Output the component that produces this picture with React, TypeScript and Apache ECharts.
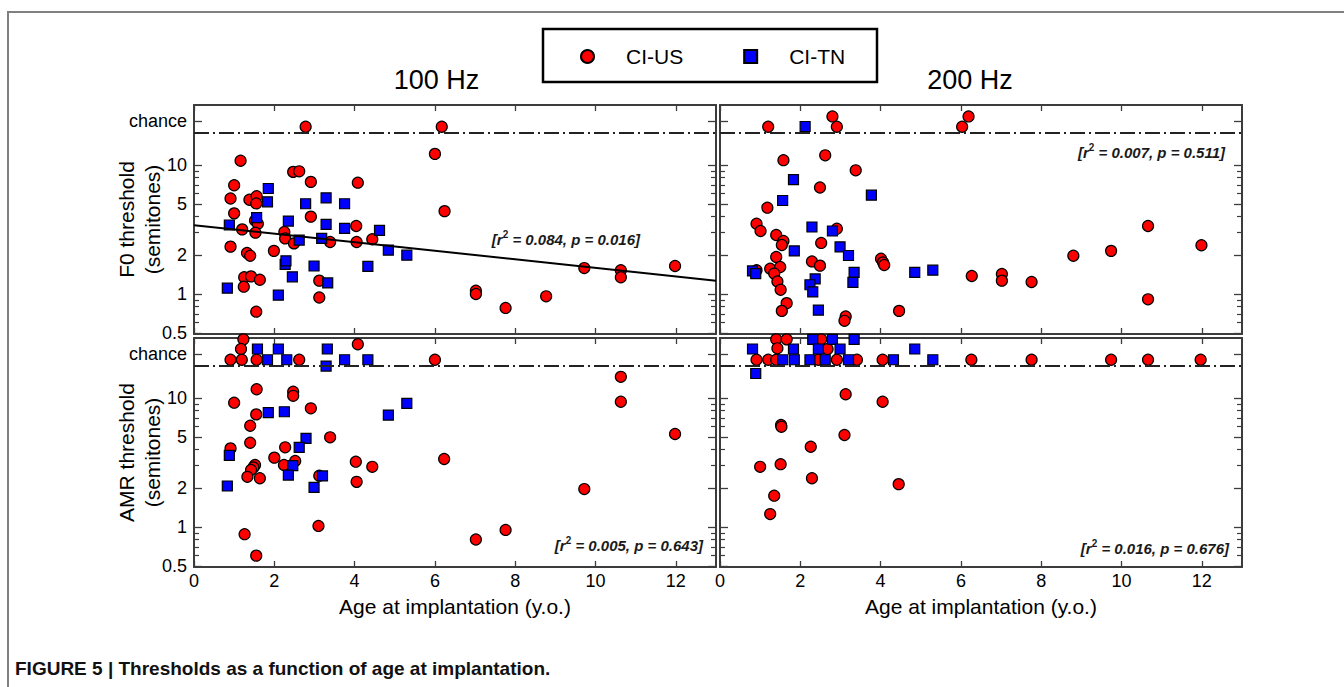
import React, { useEffect, useRef } from "react";
import * as echarts from "echarts";

const FONT = "'Liberation Sans', Arial, Helvetica, sans-serif";

// ---------------- data (age at implantation [y.o.], threshold [semitones]) ----------------
// 100 Hz, F0 threshold
const usF0_100: number[][] = [
  [2.78, 19.8], [6.17, 19.8], [1.16, 10.8], [6.0, 12.2], [2.47, 8.85], [2.62, 8.94],
  [1.0, 6.97], [2.91, 7.4], [4.08, 7.3], [0.91, 5.5], [1.38, 5.38], [1.56, 5.73],
  [1.55, 5.04], [1.0, 4.22], [2.91, 3.98], [1.52, 3.72], [1.59, 3.51], [1.2, 3.17],
  [1.53, 2.99], [2.25, 3.03], [2.27, 2.7], [2.49, 2.47], [4.04, 3.37], [4.05, 2.53],
  [3.39, 2.53], [4.44, 2.66], [0.91, 2.33], [1.32, 2.08], [1.4, 1.98], [1.99, 2.16],
  [1.25, 1.35], [1.42, 1.37], [1.64, 1.29], [1.24, 1.14], [3.12, 1.27], [3.12, 0.94],
  [1.55, 0.73], [6.24, 4.39], [9.72, 1.59], [10.63, 1.53], [10.63, 1.35], [11.98, 1.65],
  [7.02, 1.06], [7.02, 1.0], [7.76, 0.78], [8.77, 0.96],
];
const tnF0_100: number[][] = [
  [0.88, 3.43], [0.83, 1.11], [1.85, 6.58], [1.83, 5.19], [1.56, 3.91], [2.1, 0.98],
  [2.27, 1.7], [2.29, 1.81], [2.45, 1.36], [2.35, 3.68], [2.62, 2.62], [2.78, 5.01],
  [2.99, 1.65], [3.18, 2.7], [3.29, 3.47], [3.29, 5.57], [3.33, 1.22], [3.75, 5.01],
  [3.75, 3.23], [4.33, 1.64], [4.62, 3.12], [4.84, 2.19], [5.3, 2.0],
];
// 200 Hz, F0 threshold
const usF0_200: number[][] = [
  [1.2, 19.8], [2.8, 23.8], [2.91, 19.8], [6.03, 19.8], [6.19, 23.8], [1.58, 10.9],
  [2.62, 11.9], [3.38, 9.1], [2.49, 6.7], [1.18, 4.67], [0.91, 3.51], [1.01, 3.08],
  [1.4, 2.87], [1.58, 2.58], [1.54, 2.4], [2.91, 3.21], [2.52, 2.49], [1.4, 1.94],
  [2.29, 1.79], [2.49, 1.66], [0.91, 1.53], [1.25, 1.57], [1.5, 1.62], [1.35, 1.44],
  [1.43, 1.25], [1.51, 1.08], [1.66, 0.85], [1.54, 0.74], [3.13, 0.67], [3.1, 0.62],
  [4.01, 1.88], [4.06, 1.76], [4.09, 1.68], [4.46, 0.74], [6.27, 1.38], [7.02, 1.43],
  [7.02, 1.27], [7.76, 1.24], [8.8, 1.98], [9.74, 2.16], [10.66, 3.37], [10.66, 0.91],
  [11.99, 2.39],
];
const tnF0_200: number[][] = [
  [2.12, 19.9], [1.83, 7.72], [1.56, 5.31], [3.77, 5.84], [2.29, 3.31], [2.8, 3.08],
  [1.85, 2.16], [2.99, 2.32], [3.2, 1.99], [0.81, 1.51], [0.89, 1.44], [2.37, 1.31],
  [2.24, 1.18], [2.31, 1.04], [3.34, 1.47], [3.31, 1.23], [2.45, 0.75], [4.85, 1.47],
  [5.3, 1.53],
];
// 100 Hz, AMR threshold
const usAMR_100: number[][] = [
  [1.23, 28.5], [1.17, 24.0], [0.91, 19.8], [1.19, 19.8], [1.56, 19.8], [2.62, 19.8],
  [4.08, 26.1], [6.0, 19.8], [1.56, 11.7], [2.47, 11.2], [2.47, 10.4], [1.0, 9.2],
  [2.91, 8.32], [1.55, 7.47], [1.4, 6.1], [3.39, 4.96], [1.4, 4.5], [0.91, 4.07],
  [2.27, 4.15], [2.0, 3.45], [2.52, 3.25], [2.24, 3.03], [1.52, 3.03], [1.48, 2.9],
  [1.42, 2.77], [1.33, 2.45], [1.64, 2.39], [3.12, 2.5], [4.03, 3.21], [4.44, 2.93],
  [4.05, 2.24], [6.23, 3.37], [3.1, 1.02], [1.26, 0.88], [1.55, 0.6], [10.63, 14.6],
  [10.63, 9.36], [11.98, 5.26], [9.72, 1.97], [7.02, 0.8], [7.76, 0.95],
];
const tnAMR_100: number[][] = [
  [1.58, 24.0], [2.1, 24.0], [3.32, 24.0], [1.83, 19.8], [2.31, 19.8], [3.75, 19.8],
  [4.33, 19.8], [3.29, 17.7], [1.85, 7.7], [2.25, 7.83], [2.79, 4.87], [2.62, 4.15],
  [0.88, 3.59], [2.46, 2.99], [2.35, 2.53], [3.2, 2.49], [0.83, 2.08], [2.99, 2.03],
  [4.84, 7.38], [5.3, 9.1],
];
// 200 Hz, AMR threshold
const usAMR_200: number[][] = [
  [1.4, 28.5], [1.66, 28.5], [2.52, 28.5], [1.43, 24.3], [2.68, 24.0], [0.91, 19.8],
  [1.2, 19.8], [1.4, 19.8], [2.45, 19.8], [2.91, 19.8], [3.41, 19.8], [4.05, 19.8],
  [6.26, 19.8], [7.76, 19.8], [9.74, 19.8], [10.66, 19.8], [11.97, 19.8], [3.13, 10.7],
  [4.05, 9.36], [1.52, 6.18], [1.53, 5.99], [3.1, 5.17], [2.26, 4.19], [1.0, 2.93],
  [1.51, 3.07], [2.29, 2.39], [4.45, 2.15], [1.35, 1.75], [1.25, 1.26],
];
const tnAMR_200: number[][] = [
  [2.31, 28.5], [2.8, 28.5], [3.34, 28.5], [0.81, 24.0], [1.83, 24.0], [2.45, 24.0],
  [2.99, 24.0], [4.85, 24.0], [1.56, 19.8], [1.85, 19.8], [2.24, 19.8], [2.62, 19.8],
  [3.2, 19.8], [4.32, 19.8], [5.3, 19.8], [0.89, 15.5],
];

// regression fit, 100 Hz F0 panel (end points)
const fitF0_100: number[][] = [[0, 3.42], [13, 1.27]];

// axes
const xTicks = [0, 2, 4, 6, 8, 10, 12];
const xMin = 0;
const xMax = 13;
const yMin = 0.49;
const yMax = 29.2;
const yTickValues = [0.5, 1, 2, 5, 10, 22];
const yTickLabels = ["0.5", "1", "2", "5", "10", "chance"];
const yMinorTicks = [0.6, 0.7, 0.8, 0.9, 3, 4, 6, 7, 8, 9];
const chanceLevel = 17.8;

const columnTitles = ["100 Hz", "200 Hz"];
const rowNames = ["F0 threshold\n(semitones)", "AMR threshold\n(semitones)"];
const xName = "Age at implantation (y.o.)";
const legendNames = ["CI-US", "CI-TN"];
const stats = [
  ["0.084", "0.016"],
  ["0.007", "0.511"],
  ["0.005", "0.643"],
  ["0.016", "0.676"],
];
const caption = "FIGURE 5 | Thresholds as a function of age at implantation.";

const L = (v: number) => Math.log10(v);
const toLog = (pts: number[][]) => pts.map(([x, y]) => [x, Math.log10(y)]);

export default function App() {
  const ref = useRef<HTMLDivElement>(null);

  useEffect(() => {
    if (!ref.current) return;
    const chart = echarts.init(ref.current, null, { renderer: "svg" });

    const panels = [
      { left: 194, top: 105, height: 229, us: usF0_100, tn: tnF0_100, col: 0, row: 0, stat: stats[0], sx: 640, sy: 239 },
      { left: 720, top: 105, height: 229, us: usF0_200, tn: tnF0_200, col: 1, row: 0, stat: stats[1], sx: 1225, sy: 152 },
      { left: 194, top: 338, height: 229, us: usAMR_100, tn: tnAMR_100, col: 0, row: 1, stat: stats[2], sx: 703, sy: 545 },
      { left: 720, top: 338, height: 229, us: usAMR_200, tn: tnAMR_200, col: 1, row: 1, stat: stats[3], sx: 1229, sy: 548 },
    ];
    const width = 522;
    const frameColor = "#3c3c3c";

    const grid: any[] = [];
    const xAxis: any[] = [];
    const yAxis: any[] = [];
    const series: any[] = [];
    const graphic: any[] = [];

    const yMajorLog = yTickValues.map(L);
    const yMinorLog = yMinorTicks.map(L);
    const yFormatter = (v: number) => {
      let best = 0;
      let d = Infinity;
      yMajorLog.forEach((t, i) => {
        const dd = Math.abs(t - v);
        if (dd < d) { d = dd; best = i; }
      });
      return yTickLabels[best];
    };

    panels.forEach((p, i) => {
      grid.push({ left: p.left, top: p.top, width, height: p.height, containLabel: false, outerBoundsMode: "none" });
      const lineStyle = { color: frameColor, width: 2 };
      // bottom x axis
      xAxis.push({
        gridIndex: i, type: "value", min: xMin, max: xMax, position: "bottom",
        axisLine: { show: true, onZero: false, lineStyle },
        axisTick: { show: true, inside: true, length: 6, customValues: xTicks, lineStyle: { color: frameColor, width: 1.3 } },
        axisLabel: {
          show: p.row === 1, customValues: xTicks, fontSize: 18, color: "#000", margin: 5, fontFamily: FONT,
        },
        splitLine: { show: false },
        name: p.row === 1 ? xName : "",
        nameLocation: "middle", nameGap: 27, nameMoveOverlap: false,
        nameTextStyle: { fontSize: 21, color: "#000", fontFamily: FONT, lineHeight: 24 },
      });
      // top x axis
      xAxis.push({
        gridIndex: i, type: "value", min: xMin, max: xMax, position: "top",
        axisLine: { show: true, onZero: false, lineStyle },
        axisTick: { show: true, inside: true, length: 6, customValues: xTicks, lineStyle: { color: frameColor, width: 1.3 } },
        axisLabel: { show: false },
        splitLine: { show: false },
      });
      const yBase = { gridIndex: i, type: "value", min: L(yMin), max: L(yMax), splitLine: { show: false } };
      // left major
      yAxis.push({
        ...yBase, position: "left",
        axisLine: { show: true, onZero: false, lineStyle },
        axisTick: { show: true, inside: true, length: 8, customValues: yMajorLog, lineStyle: { color: frameColor, width: 1.3 } },
        axisLabel: {
          show: p.col === 0, customValues: yMajorLog, formatter: yFormatter,
          fontSize: 18, color: "#000", margin: 7, fontFamily: FONT,
        },
        name: p.col === 0 ? rowNames[p.row] : "",
        nameLocation: "middle", nameRotate: 90, nameGap: 29, nameMoveOverlap: false,
        nameTextStyle: { fontSize: 21, color: "#000", fontFamily: FONT, lineHeight: 26, align: "center" },
      });
      // right major
      yAxis.push({
        ...yBase, position: "right",
        axisLine: { show: true, onZero: false, lineStyle },
        axisTick: { show: true, inside: true, length: 8, customValues: yMajorLog, lineStyle: { color: frameColor, width: 1.3 } },
        axisLabel: { show: false },
      });
      // left minor
      yAxis.push({
        ...yBase, position: "left",
        axisLine: { show: false, onZero: false },
        axisTick: { show: true, inside: true, length: 5, customValues: yMinorLog, lineStyle: { color: frameColor, width: 1.2 } },
        axisLabel: { show: false },
      });
      // right minor
      yAxis.push({
        ...yBase, position: "right",
        axisLine: { show: false, onZero: false },
        axisTick: { show: true, inside: true, length: 5, customValues: yMinorLog, lineStyle: { color: frameColor, width: 1.2 } },
        axisLabel: { show: false },
      });

      series.push({
        name: legendNames[0], type: "scatter", xAxisIndex: 2 * i, yAxisIndex: 4 * i,
        data: toLog(p.us), symbol: "circle", symbolSize: 11, z: 2,
        itemStyle: { color: "#ff0000", borderColor: "#000", borderWidth: 1.2, opacity: 1 },
        emphasis: { disabled: true },
        markLine: {
          silent: true, symbol: ["none", "none"], label: { show: false },
          lineStyle: { type: [15, 4, 2, 4], color: "#222", width: 1.8 },
          data: [{ yAxis: L(chanceLevel) }],
        },
      });
      series.push({
        name: legendNames[1], type: "scatter", xAxisIndex: 2 * i, yAxisIndex: 4 * i,
        data: toLog(p.tn), symbol: "rect", symbolSize: 10, z: 3,
        itemStyle: { color: "#0000ff", borderColor: "#000", borderWidth: 1.2, opacity: 1 },
        emphasis: { disabled: true },
      });
      if (i === 0) {
        series.push({
          name: "fit", type: "line", xAxisIndex: 0, yAxisIndex: 0, data: toLog(fitF0_100),
          showSymbol: false, symbol: "none", z: 4,
          lineStyle: { color: "#000", width: 2 },
          emphasis: { disabled: true },
        });
      }

      graphic.push({
        type: "text", x: p.sx, y: p.sy, z: 10,
        style: {
          text: `{a|[r}{s|2}{a| = ${p.stat[0]}, p = ${p.stat[1]}]}`,
          align: "right", verticalAlign: "middle",
          rich: {
            a: { fontFamily: FONT, fontSize: 15, fontWeight: "bold", fontStyle: "italic", fill: "#1a1a1a", lineHeight: 20 },
            s: { fontFamily: FONT, fontSize: 10, fontWeight: "bold", fill: "#1a1a1a", lineHeight: 12, verticalAlign: "top" },
          },
        },
      });
    });

    // frame, legend box, titles, caption
    graphic.push(
      { type: "polyline", shape: { points: [[8, 687], [8, 12], [1344, 12]] }, style: { fill: "none", stroke: "#808080", lineWidth: 2 } },
      { type: "rect", shape: { x: 543, y: 29, width: 334, height: 53 }, style: { fill: "none", stroke: "#000", lineWidth: 2.5 } },
      { type: "text", x: 436.5, y: 80, style: { text: columnTitles[0], font: `27px ${FONT}`, fill: "#000", align: "center", verticalAlign: "middle" } },
      { type: "text", x: 970, y: 80, style: { text: columnTitles[1], font: `27px ${FONT}`, fill: "#000", align: "center", verticalAlign: "middle" } },
      { type: "text", x: 15, y: 668, style: { text: caption, font: `bold 19px ${FONT}`, fill: "#111", align: "left", verticalAlign: "middle" } },
    );

    chart.setOption({
      animation: false,
      backgroundColor: "#fff",
      textStyle: { fontFamily: FONT },
      legend: {
        data: legendNames, left: 575, top: 41, orient: "horizontal",
        itemWidth: 13, itemHeight: 13, itemGap: 60, selectedMode: false,
        textStyle: { fontSize: 21, color: "#000", fontFamily: FONT, padding: [0, 0, 0, 27] },
      },
      grid, xAxis, yAxis, series, graphic,
    });

    return () => chart.dispose();
  }, []);

  return <div ref={ref} style={{ position: "absolute", left: 0, top: 0, width: 1344, height: 687 }} />;
}
